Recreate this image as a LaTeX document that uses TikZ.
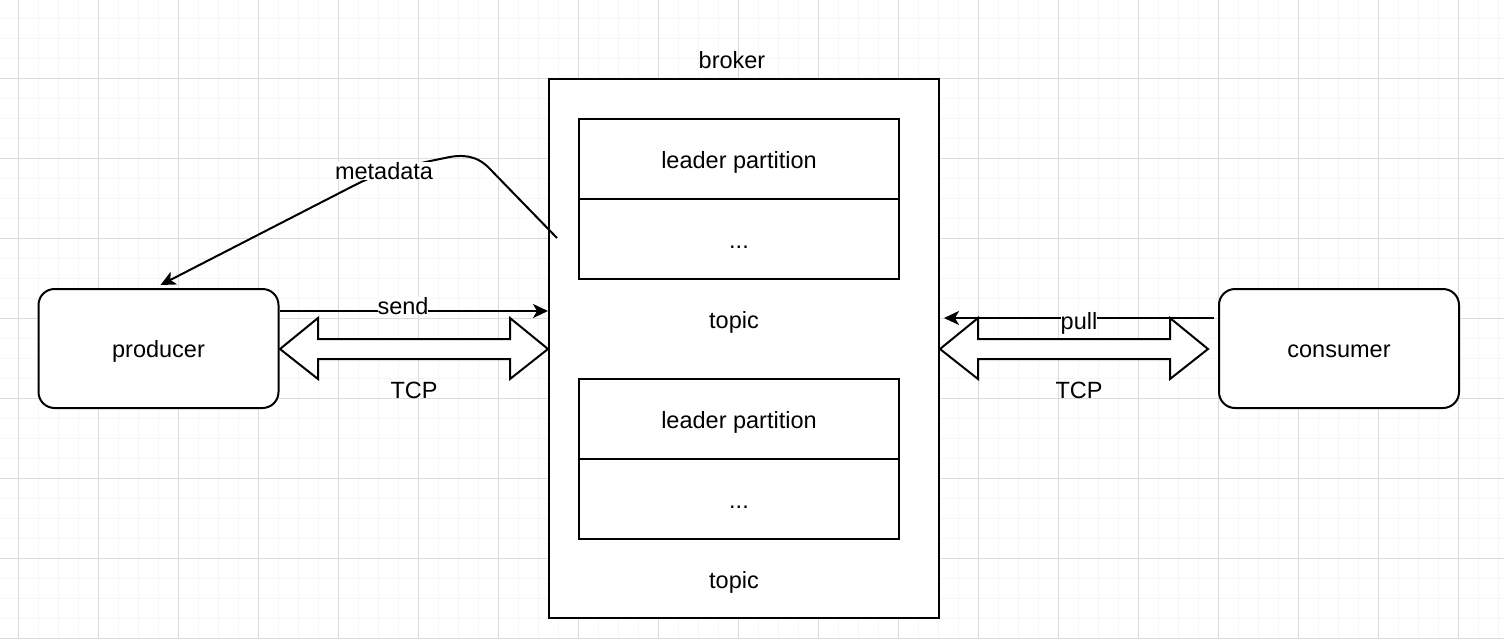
\documentclass[tikz,border=0pt]{standalone}
\usepackage{fontspec}
\setmainfont{Liberation Sans}
\usetikzlibrary{arrows.meta,calc}
\begin{document}
\begin{tikzpicture}[x=1pt,y=-1pt,
  txt/.style={font=\fontsize{23.5}{28}\selectfont, inner sep=1pt},
  box/.style={draw=black, line width=2pt, fill=white, minimum width=#1, inner sep=0pt},
  rbox/.style={draw=black, line width=2pt, fill=white, rounded corners=16pt,
               minimum width=240pt, minimum height=119pt, inner sep=0pt,
               font=\fontsize{23.5}{28}\selectfont, text height=22pt, text depth=4pt},
  cell/.style={draw=black, line width=2pt, fill=white, minimum width=320pt,
               minimum height=80pt, inner sep=0pt, font=\fontsize{23.5}{28}\selectfont,
               text height=22pt, text depth=4pt},
  conn/.style={draw=black, line width=2pt, -{Stealth[length=15pt,width=14pt,inset=4pt]}},
  tag/.style={txt, fill=white, inner sep=0pt},
  fat/.style={draw=black, line width=2pt, fill=white, line join=miter},
  minorgrid/.style={draw=black!3.5, line width=1pt},
  majorgrid/.style={draw=black!14, line width=0.8pt}]
\useasboundingbox (0,0) rectangle (1504,638);
\fill[white] (0,0) rectangle (1504,638);
% background grid
\foreach \x in {-2,18,...,1504} \draw[minorgrid] (\x,0) -- (\x,638);
\foreach \y in {-2,18,...,638} \draw[minorgrid] (0,\y) -- (1504,\y);
\foreach \x in {18,98,...,1504} \draw[majorgrid] (\x,0) -- (\x,638);
\foreach \y in {-2,78,...,638} \draw[majorgrid] (0,\y) -- (1504,\y);

% broker with its topics
\node[box=390pt, minimum height=539pt] (broker) at (744,348.5) {};
\node[txt] (brokerlbl) at (732,60) {broker};
\node[cell] (lp1) at (739,159) {leader partition};
\node[cell] (dots1) at (739,239) {...};
\node[txt] (topic1) at (734,322) {topic};
\node[cell] (lp2) at (739,419) {leader partition};
\node[cell] (dots2) at (739,499) {...};
\node[txt] (topic2) at (734,582) {topic};

% clients
\node[rbox] (producer) at (158.5,348.5) {producer};
\node[rbox] (consumer) at (1339,348.5) {consumer};

% TCP links
\draw[fat] (280,349) -- (318,318) -- (318,339) -- (510,339) -- (510,318) -- (548,349)
  -- (510,379) -- (510,359) -- (318,359) -- (318,379) -- cycle;
\draw[fat] (940,349) -- (978,318) -- (978,339) -- (1170,339) -- (1170,318) -- (1208,349)
  -- (1170,379) -- (1170,359) -- (978,359) -- (978,379) -- cycle;
\node[txt] (tcp1) at (414,390) {TCP};
\node[txt] (tcp2) at (1079,390) {TCP};

% send / pull
\coordinate (sendy) at (0,311);
\coordinate (pully) at (0,318);
\draw[conn] (producer.east |- sendy) -- node[tag, pos=0.46, yshift=5pt] {send} (broker.west |- sendy);
\draw[conn] ($(consumer.west |- pully)+(-4,0)$) -- node[tag, pos=0.5, yshift=-5pt] {pull} ($(broker.east |- pully)+(4,0)$);

% metadata
\coordinate (mstart) at (557,238);
\draw[conn] (mstart) -- (490,169) .. controls (477,155) and (462,154) .. (445,158)
  .. controls (410,165) and (380,172) .. (355,185) -- ($(producer.north)+(2,-3)$);
\node[tag] (meta) at (384,171) {metadata};
\end{tikzpicture}
\end{document}
